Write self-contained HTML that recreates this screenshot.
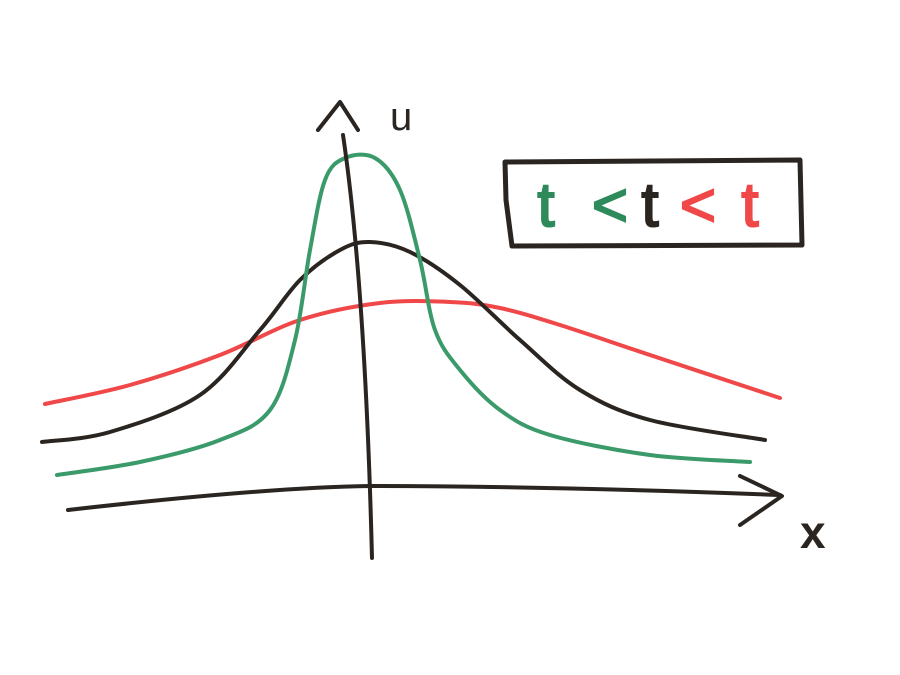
<!DOCTYPE html>
<html><head><meta charset="utf-8"><style>
html,body{margin:0;padding:0;background:#fff;}
svg{display:block;}
</style></head><body>
<svg width="900" height="675" viewBox="0 0 900 675">
<rect width="900" height="675" fill="#ffffff"/>
<g id="curves"></g>
<path d="M68,510 C200,495 300,487 370,486 C500,486 650,490 780,495" stroke="#2a2520" stroke-width="4" fill="none" stroke-linecap="round"/>
<path d="M740,476 L782,496 L740,525" stroke="#2a2520" stroke-width="4" fill="none" stroke-linecap="round" stroke-linejoin="round"/>
<path d="M343,135 C360,250 368,400 372,558" stroke="#2a2520" stroke-width="4" fill="none" stroke-linecap="round"/>
<path d="M318,130 L340,102 L358,130" stroke="#2a2520" stroke-width="4" fill="none" stroke-linecap="round" stroke-linejoin="round"/>
<text x="390" y="130" font-family="Liberation Sans, sans-serif" font-size="40" fill="#2a2520">u</text>
<text x="800" y="548" font-family="Liberation Sans, sans-serif" font-size="46" font-weight="bold" fill="#2a2520">x</text>
<path d="M505,162 L800,160 L802,245 L512,246 L506,200 Z" stroke="#2a2520" stroke-width="5" fill="none" stroke-linejoin="round"/>
<text y="226" font-family="Liberation Sans, sans-serif" font-size="62" text-anchor="middle" stroke-width="2"><tspan x="546" fill="#2e8a5a" stroke="#2e8a5a">t</tspan><tspan x="610" fill="#2e8a5a" stroke="#2e8a5a">&lt;</tspan><tspan x="650" fill="#2a2520" stroke="#2a2520">t</tspan><tspan x="698" fill="#f04848" stroke="#f04848">&lt;</tspan><tspan x="750" fill="#f04848" stroke="#f04848">t</tspan></text>
</svg>
<script>
// x in units (0 at y-axis, 1 unit = 100px), u values (0 at x-axis, 1 unit = 100px)
const greenX = [-3.08,-2.25,-1.45,-0.95,-0.7,-0.55,-0.4,-0.2,0.1,0.35,0.55,0.7,0.95,1.35,1.85,2.85,3.85];
const greenU = [0.15,0.28,0.5,0.8,1.5,2.4,3.1,3.32,3.32,3.0,2.3,1.6,1.2,0.8,0.55,0.35,0.28];
const blackX = [-3.23,-2.55,-1.65,-1.05,-0.65,-0.25,0.05,0.45,0.95,1.55,2.15,2.85,4.0];
const blackU = [0.48,0.58,0.95,1.6,2.1,2.4,2.48,2.38,2.05,1.5,1.0,0.7,0.5];
const redX = [-3.2,-2.35,-1.45,-0.65,0.15,0.85,1.35,1.95,2.85,4.15];
const redU = [0.86,1.05,1.35,1.7,1.87,1.88,1.82,1.65,1.35,0.92];
function sx(v){return 365+v*100;}
function sy(v){return 490-v*100;}
function smoothPath(xs,us){
  const p=xs.map((x,i)=>[sx(x),sy(us[i])]);
  let d='M'+p[0][0]+','+p[0][1];
  for(let i=0;i<p.length-1;i++){
    const p0=p[Math.max(0,i-1)],p1=p[i],p2=p[i+1],p3=p[Math.min(p.length-1,i+2)];
    const c1x=p1[0]+(p2[0]-p0[0])/6,c1y=p1[1]+(p2[1]-p0[1])/6;
    const c2x=p2[0]-(p3[0]-p1[0])/6,c2y=p2[1]-(p3[1]-p1[1])/6;
    d+=' C'+c1x+','+c1y+' '+c2x+','+c2y+' '+p2[0]+','+p2[1];
  }
  return d;
}
const g=document.getElementById('curves');
function addCurve(xs,us,color,name){
  const el=document.createElementNS('http://www.w3.org/2000/svg','path');
  el.setAttribute('d',smoothPath(xs,us));
  el.setAttribute('stroke',color);
  el.setAttribute('stroke-width','4');
  el.setAttribute('fill','none');
  el.setAttribute('stroke-linecap','round');
  
  
  g.appendChild(el);
}
addCurve(redX,redU,'#f04848','curve-red-late');
addCurve(blackX,blackU,'#2a2520','curve-black-mid');
addCurve(greenX,greenU,'#3a9a6a','curve-green-early');
</script>
</body></html>
